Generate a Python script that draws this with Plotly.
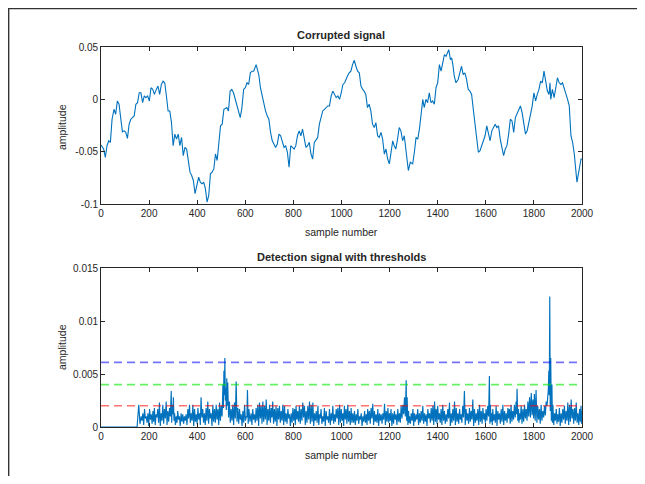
import plotly.graph_objects as go

# ---------------- data ----------------
# Corrupted signal (sample number, amplitude)
sig_x_a = [0,11,18,25,32,39,46,54,61,68,75,82,89,96,103,110,117,124,131,138,
           145,152,159,166,173,180,187,194,201,208,215,222,230,237,244,251,258,265,272,279,
           286,293,300,307,314,321,328,335,342,349,356,363,370,377,384,391,398,406,413,420,
           427,434,441,448,455,462,469,476,483,490,497,504,511]
sig_y_a = [-0.0437,-0.0475,-0.0554,-0.0443,-0.0396,-0.0411,-0.0190,-0.0095,-0.0142,-0.0016,
           -0.0047,-0.0158,-0.0310,-0.0301,-0.0316,-0.0373,-0.0237,-0.0190,-0.0174,-0.0158,
           -0.0047,-0.0032,0.0063,0.0063,-0.0032,0.0032,0.0016,0.0032,-0.0016,0.0111,
           0.0095,0.0047,0.0095,0.0127,0.0047,0.0142,0.0174,0.0158,0.0032,-0.0111,
           -0.0111,-0.0222,-0.0443,-0.0332,-0.0380,-0.0332,-0.0443,-0.0364,-0.0538,-0.0459,
           -0.0475,-0.0585,-0.0696,-0.0728,-0.0775,-0.0902,-0.0823,-0.0744,-0.0791,-0.0807,
           -0.0791,-0.0854,-0.0981,-0.0918,-0.0712,-0.0696,-0.0665,-0.0522,-0.0585,-0.0443,
           -0.0253,-0.0237,-0.0095]
sig_x_b = [523,530,537,544,551,558,565,572,579,586,593,600,607,614,621,628,635,645,656,663,
           670,677,684,691,698,705,712,719,726,733,740,747,754,761,768,775,782,789,796,803,
           810,817,824,831,838,845,852,859,866,873,880,887,894,901,908,915,922,929,936,943,
           950,957,964,971,978,985,992,999,1006,1013]
sig_y_b = [-0.0079,-0.0111,0.0079,0.0095,0.0063,0.0,-0.0047,-0.0111,-0.0174,-0.0079,
           0.0095,0.0111,0.0158,0.0142,0.0253,0.0269,0.0269,0.0332,0.0237,0.0111,
           0.0032,-0.0016,-0.0111,-0.0158,-0.0190,-0.0316,-0.0396,-0.0427,-0.0459,-0.0427,
           -0.0332,-0.0348,-0.0411,-0.0459,-0.0443,-0.0506,-0.0649,-0.0443,-0.0459,-0.0475,
           -0.0443,-0.0348,-0.0301,-0.0348,-0.0285,-0.0380,-0.0459,-0.0443,-0.0411,-0.0522,
           -0.0570,-0.0411,-0.0380,-0.0364,-0.0237,-0.0158,-0.0111,-0.0095,-0.0079,-0.0063,
           -0.0063,0.0032,0.0079,0.0047,0.0016,0.0032,0.0,0.0063,0.0142,0.0158]
sig_x_c = [1018,1025,1032,1039,1046,1053,1060,1067,1074,1081,1088,1094,1101,1108,1115,1122,1129,1136,1143,1150,
           1157,1164,1171,1178,1185,1192,1199,1206,1213,1219,1226,1233,1240,1247,1254,1261,1268,1275,1278,1286,
           1296,1303,1310,1317,1324,1331,1338,1344,1351,1358,1365,1372,1379,1386,1393,1400,1407,1414,1421,1428,
           1435,1442,1446,1453,1458,1463,1469,1476]
sig_y_c = [0.0190,0.0222,0.0253,0.0269,0.0332,0.0373,0.0316,0.0269,0.0253,0.0127,
           0.0095,0.0079,0.0047,-0.0079,-0.0047,-0.0111,-0.0237,-0.0269,-0.0222,-0.0348,
           -0.0364,-0.0316,-0.0380,-0.0522,-0.0475,-0.0570,-0.0617,-0.0522,-0.0396,-0.0443,
           -0.0475,-0.0380,-0.0269,-0.0301,-0.0396,-0.0348,-0.0475,-0.0649,-0.0680,-0.0601,
           -0.0617,-0.0506,-0.0364,-0.0380,-0.0285,-0.0142,0.0,-0.0079,0.0,-0.0032,
           0.0063,-0.0032,-0.0016,-0.0047,0.0111,0.0158,0.0332,0.0269,0.0364,0.0427,
           0.0411,0.0443,0.0475,0.0380,0.0396,0.0332,0.0222,0.0158]
sig_x_d = [1485,1492,1499,1506,1513,1520,1527,1534,1541,1548,1555,1562,1569,1576,1583,1590,1597,1604,1611,1618,
           1625,1632,1639,1646,1653,1660,1667,1674,1681,1688,1695,1702,1709,1716,1723,1730,1737,1744,1751,1758,
           1765,1772,1779,1786,1793,1800,1807,1814,1821,1828,1835,1842,1849,1856,1863,1867,1870,1877,1884,1891,
           1898,1905,1912,1919,1926,1933,1940,1947,1954,1961,1968,1975,1979,1985,1990,1996,2000]
sig_y_d = [0.0190,0.0253,0.0316,0.0237,0.0253,0.0190,0.0095,0.0079,0.0047,-0.0095,
           -0.0237,-0.0380,-0.0506,-0.0491,-0.0443,-0.0396,-0.0348,-0.0253,-0.0316,-0.0396,
           -0.0301,-0.0269,-0.0237,-0.0269,-0.0253,-0.0380,-0.0475,-0.0538,-0.0475,-0.0443,
           -0.0332,-0.0190,-0.0206,-0.0316,-0.0174,-0.0142,-0.0095,-0.0063,-0.0127,-0.0253,
           -0.0332,-0.0301,-0.0222,-0.0142,-0.0063,0.0063,-0.0016,0.0047,0.0095,0.0174,
           0.0158,0.0269,0.0190,0.0079,0.0047,0.0158,0.0,0.0095,0.0016,0.0127,
           0.0206,0.0158,0.0142,0.0158,0.0111,0.0047,0.0,-0.0063,-0.0348,-0.0411,
           -0.0522,-0.0696,-0.0791,-0.0712,-0.0633,-0.0570,-0.0570]

# Detection signal: zero lead-in, then local peaks and the troughs between them
det_lead_x = [0, 150]
det_lead_y = [0.0, 0.0]
det_peak_x = [157,167,174,181,188,195,202,209,216,222,229,236,243,250,257,264,271,278,285,292,
              296,301,306,313,319,326,333,340,347,354,361,368,375,382,389,396,403,410,416,423,
              430,437,444,451,458,465,472,479,486,493,500,507,511,515,519,523,527,534,541,548,
              555,562,569,576,583,590,597,604,609,615,624,631,638,645,652,659,666,673,680,687,
              694,701,708,714,721,728,735,742,749,756,763,770,777,784,791,798,805,811,818,825,
              832,839,846,853,860,867,874,881,888,895,902,909,915,922,929,936,943,950,957,964,
              971,978,985,992,999,1006,1012,1019,1026,1033,1040,1047,
              1054,1061,1068,1075,1082,1089,1096,1103,1109,1116,1123,1130,1137,1144,1151,1158,1165,1172,1179,1186,
              1193,1200,1206,1213,1220,1227,1234,1241,1248,1255,1262,1269,1273,1279,1283,1290,1297,1303,1310,1317,
              1324,1331,1338,1345,1352,1359,1366,1373,1380,1387,1394,1400,1407,1414,1421,1428,1435,1442,1449,1456,
              1463,1470,1477,1484,1491,1497,1504,1511,1518,1525,1532,1539,1546,1553,1560,1567,1574,1581,1588,1595,
              1601,1608,1615,1619,1625,1629,1636,1643,1650,1657,1664,1671,1678,1685,1692,1698,1705,1712,1719,1726,
              1730,1736,1740,1747,1754,1761,1768,1775,1782,1789,1796,1802,1809,1816,1823,1830,1837,1844,1851,1858,
              1862,1866,1870,1875,1879,1886,1893,1899,1906,1913,1920,1927,1934,1941,1948,1955,1962,1969,1976,1983,
              1990,1996,2000]
det_peak_y = [0.0021,0.0010,0.0013,0.0017,0.0010,0.0013,0.0017,0.0012,0.0015,0.0018,
              0.0012,0.0017,0.0023,0.0013,0.0021,0.0017,0.0024,0.0015,0.0018,0.0034,
              0.0021,0.0028,0.0013,0.0010,0.0015,0.0010,0.0013,0.0012,0.0010,0.0012,
              0.0017,0.0021,0.0013,0.0021,0.0017,0.0012,0.0018,0.0013,0.0028,0.0017,
              0.0013,0.0018,0.0024,0.0017,0.0013,0.0021,0.0017,0.0021,0.0017,0.0023,
              0.0020,0.0040,0.0053,0.0065,0.0037,0.0046,0.0042,0.0024,0.0017,0.0021,
              0.0023,0.0043,0.0018,0.0017,0.0012,0.0015,0.0021,0.0010,0.0035,0.0017,
              0.0013,0.0017,0.0012,0.0018,0.0021,0.0023,0.0020,0.0024,0.0020,0.0026,
              0.0017,0.0021,0.0018,0.0024,0.0017,0.0020,0.0018,0.0020,0.0015,0.0021,
              0.0020,0.0013,0.0017,0.0012,0.0013,0.0018,0.0017,0.0020,0.0015,0.0020,
              0.0017,0.0023,0.0020,0.0015,0.0020,0.0024,0.0021,0.0023,0.0013,0.0015,
              0.0020,0.0012,0.0017,0.0010,0.0018,0.0015,0.0010,0.0017,0.0013,0.0020,
              0.0012,0.0017,0.0018,0.0021,0.0017,0.0013,0.0020,0.0017,0.0021,0.0015,
              0.0018,0.0013,
              0.0015,0.0012,0.0017,0.0010,0.0013,0.0010,0.0015,0.0012,0.0017,0.0015,
              0.0018,0.0022,0.0015,0.0012,0.0017,0.0013,0.0012,0.0013,0.0022,0.0015,
              0.0018,0.0013,0.0017,0.0013,0.0015,0.0012,0.0017,0.0013,0.0020,0.0021,
              0.0028,0.0044,0.0028,0.0015,0.0010,0.0013,0.0017,0.0013,0.0012,0.0017,
              0.0013,0.0015,0.0020,0.0013,0.0012,0.0017,0.0013,0.0018,0.0020,0.0024,
              0.0017,0.0020,0.0013,0.0017,0.0021,0.0015,0.0012,0.0017,0.0023,0.0013,
              0.0017,0.0024,0.0018,0.0013,0.0017,0.0012,0.0020,0.0034,0.0017,0.0013,
              0.0018,0.0015,0.0026,0.0017,0.0013,0.0017,0.0021,0.0015,0.0018,0.0013,
              0.0017,0.0020,0.0048,0.0021,0.0013,0.0017,0.0012,0.0020,0.0015,0.0013,
              0.0017,0.0021,0.0015,0.0013,0.0018,0.0017,0.0021,0.0015,0.0021,0.0024,
              0.0036,0.0017,0.0013,0.0020,0.0017,0.0021,0.0017,0.0024,0.0028,0.0032,
              0.0026,0.0031,0.0035,0.0020,0.0017,0.0021,0.0015,0.0020,0.0024,0.0032,
              0.0053,0.0123,0.0065,0.0040,0.0021,0.0013,0.0017,0.0012,0.0018,0.0013,
              0.0017,0.0020,0.0015,0.0023,0.0021,0.0026,0.0017,0.0018,0.0023,0.0013,
              0.0017,0.0020,0.0015]
det_trough_y = [0.0003,0.0006,0.0002,0.0008,0.0004,0.0001,0.0007,0.0003,0.0005,0.0002,
                0.0009,0.0004,0.0001,0.0006,0.0003,0.0008,0.0002,0.0005,0.0010,0.0004,
                0.0012,0.0006,0.0002,0.0004,0.0007,0.0001,0.0005,0.0003,0.0006,0.0002,
                0.0008,0.0004,0.0006,0.0001,0.0005,0.0003,0.0007,0.0002,0.0009,0.0004,
                0.0002,0.0006,0.0003,0.0008,0.0001,0.0005,0.0004,0.0007,0.0002,0.0006,
                0.0010,0.0018,0.0030,0.0025,0.0016,0.0020,0.0009,0.0004,0.0006,0.0002,
                0.0008,0.0005,0.0003,0.0007,0.0001,0.0004,0.0006,0.0009,0.0003,0.0005,
                0.0002,0.0007,0.0004,0.0006,0.0001,0.0008,0.0003,0.0005,0.0007,0.0002,
                0.0006,0.0004,0.0009,0.0003,0.0005,0.0001,0.0007,0.0004,0.0006,0.0002,
                0.0005,0.0003,0.0008,0.0001,0.0004,0.0006,0.0002,0.0007,0.0005,0.0003,
                0.0006,0.0009,0.0002,0.0004,0.0007,0.0003,0.0005,0.0001,0.0006,0.0004,
                0.0002,0.0008,0.0003,0.0005,0.0001,0.0007,0.0004,0.0002,0.0006,0.0003,
                0.0005,0.0008,0.0002,0.0004,0.0006,0.0001,0.0007,0.0003,0.0005,0.0002,
                0.0004,
                0.0004,0.0002,0.0006,0.0003,0.0007,0.0001,0.0005,0.0004,0.0002,0.0006,
                0.0003,0.0008,0.0002,0.0005,0.0004,0.0001,0.0006,0.0003,0.0007,0.0002,
                0.0005,0.0004,0.0006,0.0001,0.0003,0.0007,0.0002,0.0005,0.0004,0.0008,
                0.0012,0.0010,0.0006,0.0002,0.0004,0.0003,0.0006,0.0001,0.0005,0.0007,
                0.0002,0.0004,0.0006,0.0003,0.0005,0.0001,0.0008,0.0004,0.0006,0.0002,
                0.0005,0.0003,0.0007,0.0004,0.0002,0.0006,0.0003,0.0005,0.0008,0.0001,
                0.0004,0.0006,0.0002,0.0005,0.0003,0.0007,0.0004,0.0009,0.0002,0.0006,
                0.0003,0.0005,0.0007,0.0001,0.0004,0.0006,0.0002,0.0005,0.0003,0.0007,
                0.0004,0.0006,0.0010,0.0003,0.0005,0.0002,0.0006,0.0004,0.0001,0.0007,
                0.0003,0.0005,0.0002,0.0006,0.0004,0.0008,0.0003,0.0005,0.0007,0.0009,
                0.0012,0.0006,0.0004,0.0007,0.0003,0.0005,0.0008,0.0006,0.0010,0.0009,
                0.0011,0.0008,0.0006,0.0004,0.0007,0.0003,0.0006,0.0009,0.0011,0.0020,
                0.0035,0.0030,0.0015,0.0006,0.0004,0.0002,0.0006,0.0003,0.0005,0.0001,
                0.0004,0.0007,0.0003,0.0006,0.0002,0.0005,0.0008,0.0003,0.0006,0.0004,
                0.0002,0.0005,0.0003]

thresholds = [0.002, 0.004, 0.0061]
threshold_colors = ["rgba(255,0,0,0.55)", "rgba(0,230,0,0.6)", "rgba(0,0,255,0.55)"]

x_ticks = [0, 200, 400, 600, 800, 1000, 1200, 1400, 1600, 1800, 2000]
top_yticks = [-0.1, -0.05, 0, 0.05]
top_ytext = ["-0.1", "-0.05", "0", "0.05"]
bot_yticks = [0, 0.005, 0.01, 0.015]
bot_ytext = ["0", "0.005", "0.01", "0.015"]

# ---------------- build series ----------------
sig_x = sig_x_a + sig_x_b + sig_x_c + sig_x_d
sig_y = sig_y_a + sig_y_b + sig_y_c + sig_y_d

det_x = list(det_lead_x)
det_y = list(det_lead_y)
n = min(len(det_peak_x), len(det_peak_y))
for i in range(n):
    det_x.append(det_peak_x[i])
    det_y.append(det_peak_y[i])
    if i + 1 < n and i < len(det_trough_y):
        det_x.append((det_peak_x[i] + det_peak_x[i + 1]) / 2)
        det_y.append(det_trough_y[i])

# page body has an 8px margin: figure is sized so the page is exactly 645x484
OFF = 8
W, H = 645 - 2 * OFF, 484 - 2 * OFF


def xp(p):
    return (p - OFF) / W


def yp(p):
    return 1 - (p - OFF) / H


L, R = 101, 582
BLUE = "#0072BD"
AX = "#262626"
FONT = "Liberation Sans, Arial, Helvetica, sans-serif"

fig = go.Figure()
fig.add_trace(go.Scatter(x=sig_x, y=sig_y, mode="lines",
                         line=dict(color=BLUE, width=1.1), xaxis="x", yaxis="y",
                         showlegend=False, hoverinfo="skip"))
fig.add_trace(go.Scatter(x=det_x, y=det_y, mode="lines",
                         line=dict(color=BLUE, width=1.15), xaxis="x2", yaxis="y2",
                         showlegend=False, hoverinfo="skip"))
for t, c in zip(thresholds, threshold_colors):
    fig.add_trace(go.Scatter(x=[0, 2000], y=[t, t], mode="lines",
                             line=dict(color=c, width=1.6, dash="8px,5px"),
                             xaxis="x2", yaxis="y2", showlegend=False, hoverinfo="skip"))

axis_common = dict(showline=True, linecolor=AX, linewidth=0.8, mirror="ticks",
                   ticks="inside", ticklen=4, tickwidth=0.8, tickcolor=AX,
                   showgrid=False, zeroline=False, automargin=False,
                   tickfont=dict(family=FONT, size=10, color=AX))

fig.update_layout(
    width=W, height=H,
    margin=dict(l=0, r=0, t=0, b=0),
    paper_bgcolor="white", plot_bgcolor="white",
    xaxis=dict(domain=[xp(L), xp(R)], range=[0, 2000], tickvals=x_ticks,
               anchor="y", **axis_common),
    yaxis=dict(domain=[yp(204), yp(47)], range=[-0.1, 0.05],
               tickvals=top_yticks, ticktext=top_ytext, anchor="x", **axis_common),
    xaxis2=dict(domain=[xp(L), xp(R)], range=[0, 2000], tickvals=x_ticks,
                anchor="y2", **axis_common),
    yaxis2=dict(domain=[yp(427), yp(268)], range=[0, 0.015],
                tickvals=bot_yticks, ticktext=bot_ytext, anchor="x2", **axis_common),
)

cx = xp((L + R) / 2)
ann = [
    dict(text="<b>Corrupted signal</b>", x=cx, y=yp(35), size=11),
    dict(text="<b>Detection signal with thresholds</b>", x=cx, y=yp(257), size=11),
    dict(text="sample number", x=cx, y=yp(232), size=10.5),
    dict(text="sample number", x=cx, y=yp(455), size=10.5),
]
for a in ann:
    fig.add_annotation(text=a["text"], x=a["x"], y=a["y"], xref="paper", yref="paper",
                       showarrow=False, xanchor="center", yanchor="middle",
                       font=dict(family=FONT, size=a["size"], color=AX))
for yc in (yp(127), yp(347)):
    fig.add_annotation(text="amplitude", x=xp(62), y=yc, xref="paper", yref="paper",
                       showarrow=False, textangle=-90, xanchor="center", yanchor="middle",
                       font=dict(family=FONT, size=10.5, color=AX))

# window frame lines (drawn at the figure edges)
frame = dict(color="#333333", width=1.5)
fig.add_shape(type="line", xref="paper", yref="paper", x0=0.001, x1=0.001, y0=0, y1=1, line=frame)
fig.add_shape(type="line", xref="paper", yref="paper", x0=0, x1=1, y0=0.999, y1=0.999, line=frame)
fig.add_shape(type="line", xref="paper", yref="paper", x0=xp(638), x1=xp(638), y0=0, y1=1, line=frame)

fig.write_html("out.html")
